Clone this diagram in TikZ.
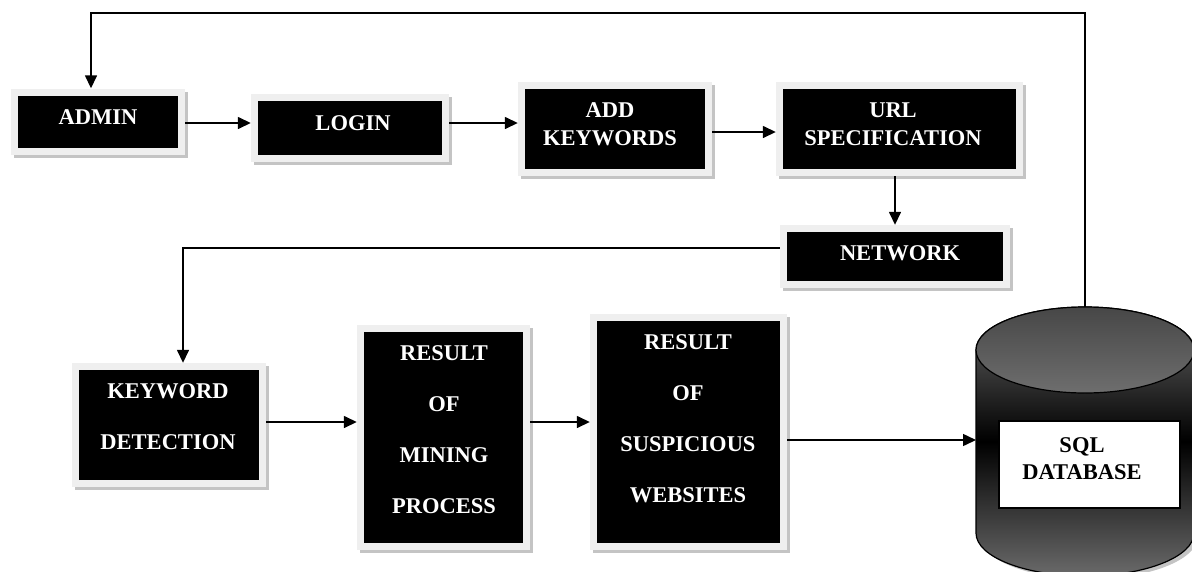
\documentclass[tikz,border=0pt]{standalone}
\usepackage{fontspec}
\setmainfont{Liberation Serif}
\usetikzlibrary{arrows.meta,shadows}
\definecolor{framec}{HTML}{EFEFEF}
\definecolor{shadowc}{HTML}{C4C4C4}
\definecolor{dbg}{HTML}{6A6A6A}
\definecolor{dbtop}{HTML}{474747}
\definecolor{dbtopb}{HTML}{6E6E6E}
\tikzset{
  box/.style={fill=framec, draw=none, inner sep=0pt,
    drop shadow={shadow xshift=3pt, shadow yshift=-3pt, fill=shadowc, opacity=1},
    path picture={\fill[black] ([shift={(7pt,7pt)}]path picture bounding box.south west) rectangle ([shift={(-7pt,-7pt)}]path picture bounding box.north east);}},
  lbl/.style={text=white, font=\fontsize{22.5}{28}\selectfont\bfseries, align=center, inner sep=0pt},
  lblw/.style={text=white, font=\fontsize{22.5}{51}\selectfont\bfseries, align=center, inner sep=0pt},
  arr/.style={-{Triangle[length=13pt,width=12pt]}, line width=1.5pt, black},
}
\begin{document}
\begin{tikzpicture}[x=1pt,y=-1pt]
\useasboundingbox (0,0) rectangle (1192,571);
\fill[white] (0,0) rectangle (1192,571);
% boxes
\node[box, minimum width=174pt, minimum height=66pt] (admin) at (98,121.5) {};
\node[box, minimum width=198pt, minimum height=68pt] (login) at (350,128) {};
\node[box, minimum width=194pt, minimum height=94pt] (add) at (615,129) {};
\node[box, minimum width=247pt, minimum height=94pt] (url) at (899.5,129) {};
\node[box, minimum width=230pt, minimum height=63pt] (network) at (895,256.5) {};
\node[box, minimum width=194pt, minimum height=124pt] (kd) at (169,425) {};
\node[box, minimum width=173pt, minimum height=225pt] (mining) at (443.5,437.5) {};
\node[box, minimum width=197pt, minimum height=236pt] (susp) at (688.5,432) {};
% labels
\node[lbl] (admin-t) at (98,117) {ADMIN};
\node[lbl] (login-t) at (353,123) {LOGIN};
\node[lbl] (add-t) at (610,124) {ADD\\KEYWORDS};
\node[lbl] (url-t) at (893,124) {URL\\SPECIFICATION};
\node[lbl] (network-t) at (900,253) {NETWORK};
\node[lblw] (kd-t) at (168,416.5) {KEYWORD\\DETECTION};
\node[lblw] (mining-t) at (444,430) {RESULT\\OF\\MINING\\PROCESS};
\node[lblw] (susp-t) at (688,418.5) {RESULT\\OF\\SUSPICIOUS\\WEBSITES};
% database cylinder
\fill[shadowc] (980,353) -- (980,536) arc[start angle=180, end angle=0, x radius=109, y radius=43] -- (1198,353) arc[start angle=360, end angle=180, x radius=109, y radius=43] -- cycle;
\shade[top color=dbg, bottom color=dbg, middle color=black, draw=black, line width=1.2pt]
  (976,350) -- (976,533) arc[start angle=180, end angle=0, x radius=109, y radius=43]
  -- (1194,350) arc[start angle=360, end angle=180, x radius=109, y radius=43] -- cycle;
\shade[top color=dbtop, bottom color=dbtopb, draw=black, line width=1.2pt]
  (1085,350) ellipse [x radius=109, y radius=43];
\coordinate (dbtopc) at (1085,307);
\coordinate (dbin) at (976,440);
\node[draw=black, fill=white, line width=1.2pt, minimum width=181pt, minimum height=87pt, inner sep=0pt] (sql) at (1089.5,464.5) {};
\node[font=\fontsize{22.5}{27}\selectfont\bfseries, align=center, inner sep=0pt] (sql-t) at (1082,458.5) {SQL\\DATABASE};
% helper coordinates
\coordinate (c1) at (1085,13);
\coordinate (c2) at (91,13);
\coordinate (c3) at (183,248);
\coordinate (r1a) at (0,123);
\coordinate (r1b) at (0,132);
\coordinate (r2) at (0,422);
% connectors
\draw[arr] (dbtopc) -- (c1) -- (c2) -- (c2 |- admin.north);
\draw[arr] (admin.east |- r1a) -- (login.west |- r1a);
\draw[arr] (login.east |- r1a) -- (add.west |- r1a);
\draw[arr] (add.east |- r1b) -- (url.west |- r1b);
\draw[arr] (url.south -| network.north) -- (network.north);
\draw[arr] (network.west |- c3) -- (c3) -- (c3 |- kd.north);
\draw[arr] (kd.east |- r2) -- (mining.west |- r2);
\draw[arr] (mining.east |- r2) -- (susp.west |- r2);
\draw[arr] (susp.east |- dbin) -- (dbin);
\end{tikzpicture}
\end{document}
